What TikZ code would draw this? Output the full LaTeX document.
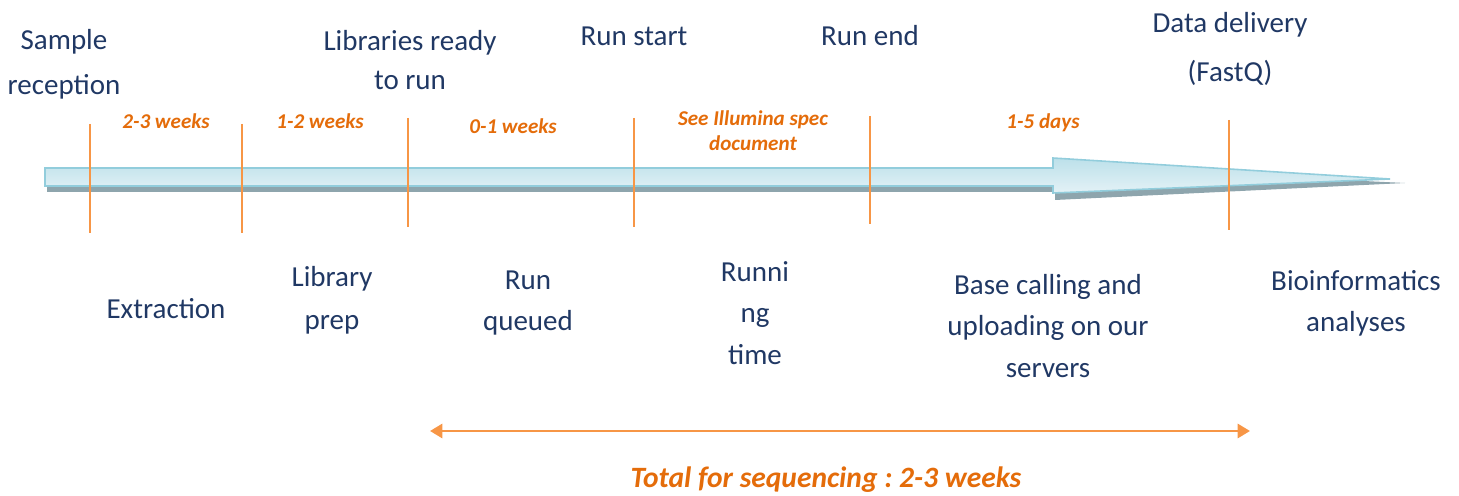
\documentclass[tikz,border=0pt]{standalone}
\usepackage{fontspec}
\setmainfont{Carlito}
\usetikzlibrary{arrows.meta}
\definecolor{navytext}{HTML}{203864}
\definecolor{durorange}{HTML}{E46C0A}
\definecolor{lineorange}{HTML}{F79646}
\definecolor{barborder}{HTML}{92CDDC}
\definecolor{bartop}{HTML}{BCE0EA}
\definecolor{barbottom}{HTML}{E4F2F6}
\definecolor{barshadow}{HTML}{8EA5AD}
\tikzset{
  milestone/.style={text=navytext, align=center, inner sep=0pt,
    font=\fontsize{16.5}{24}\selectfont},
  duration/.style={text=durorange, align=center, inner sep=0pt,
    font=\fontsize{12}{16}\selectfont\bfseries\itshape},
  tickline/.style={lineorange, line width=1.4pt},
}

\begin{document}
\frenchspacing
\begin{tikzpicture}[x=0.02cm, y=-0.02cm]
    \useasboundingbox (0,0) rectangle (1459,496);
    % timeline bar with its shadow
    \fill [barshadow] (47,175) -- (1055,175) -- (1055,166) -- (1405,183)
      -- (1055,200) -- (1055,192) -- (47,192) -- cycle;
    \draw [barborder, line width=0.9pt, top color=bartop, bottom color=barbottom]
      (45,168) -- (1053,168) -- (1053,158) -- (1390,179)
      -- (1053,193) -- (1053,186) -- (45,186) -- cycle;
    % ticks
    \draw [tickline] (90,124) -- (90,233);
    \draw [tickline] (242,124) -- (242,233);
    \draw [tickline] (408,118) -- (408,227);
    \draw [tickline] (634,118) -- (634,227);
    \draw [tickline] (870,116) -- (870,224);
    \draw [tickline] (1229,120) -- (1229,230);
    % milestones
    \node [milestone, font=\fontsize{16.5}{25.5}\selectfont] (reception) at (64,64) {Sample\\reception};
    \node [milestone, font=\fontsize{16.5}{22.7}\selectfont] (libready) at (410,60) {Libraries ready\\to run};
    \node [milestone] (runstart) at (634,36) {Run start};
    \node [milestone] (runend) at (870,36) {Run end};
    \node [milestone, font=\fontsize{16.5}{27.8}\selectfont] (delivery) at (1230,49) {Data delivery\\(FastQ)};
    % durations
    \node [duration] (dextract) at (166,121) {2-3 weeks};
    \node [duration] (dlibprep) at (320,121) {1-2 weeks};
    \node [duration] (dqueue) at (513,126) {0-1 weeks};
    \node [duration, font=\fontsize{12}{14.2}\selectfont\bfseries\itshape] (drun) at (753,131) {See Illumina spec\\document};
    \node [duration] (dcalling) at (1043,123) {1-5 days};
    % phases
    \node [milestone] (extraction) at (166,309) {Extraction};
    \node [milestone, font=\fontsize{16.5}{24.4}\selectfont] (libprep) at (332,300) {Library\\prep};
    \node [milestone, font=\fontsize{16.5}{23.8}\selectfont] (queued) at (528,303) {Run\\queued};
    \node [milestone, font=\fontsize{16.5}{23.5}\selectfont] (running) at (755,313) {Runni\\ng\\time};
    \node [milestone, font=\fontsize{16.5}{23.5}\selectfont] (calling) at (1048,326) {Base calling and\\uploading on our\\servers};
    \node [milestone, font=\fontsize{16.5}{23.2}\selectfont] (bioinfo) at (1356,303) {Bioinformatics\\analyses};
    % total
    \coordinate (totstart) at (430,431);
    \coordinate (totend) at (1250,431);
    \draw [lineorange, line width=1.5pt, {Triangle[length=7pt,width=8pt]}-{Triangle[length=7pt,width=8pt]}] (totstart) -- (totend);
    \node [duration, font=\fontsize{16.8}{18}\selectfont\bfseries\itshape] (total) at (826,480) {Total for sequencing : 2-3 weeks};
\end{tikzpicture}
\end{document}
